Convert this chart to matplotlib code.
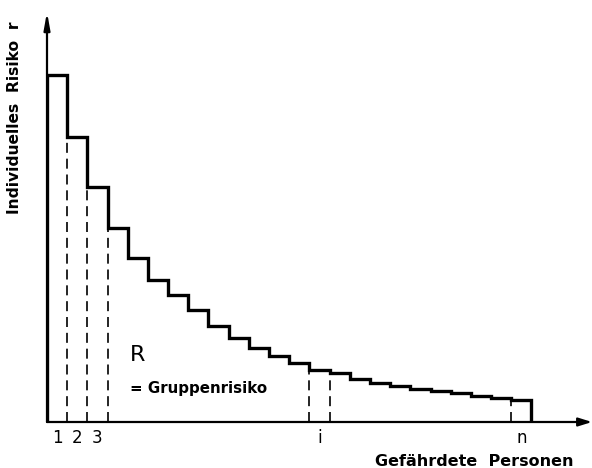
import numpy as np
import matplotlib
matplotlib.use("Agg")
import matplotlib.pyplot as plt

# individual risk per person (arbitrary units), persons 1..n
risk = [347, 285, 235, 194, 164, 142, 127, 112, 96, 84, 74, 66,
        59, 52, 49, 43, 39, 36, 33, 31, 29, 26, 24, 22]
tick_idx = [0, 1, 2, 13, 23]
tick_labels = ["1", "2", "3", "i", "n"]
dashed_at = [1, 2, 3, 13, 14, 23]

n = len(risk)
edges = np.arange(n + 1)

fig = plt.figure(figsize=(5.92, 4.68), dpi=100)
ax = fig.add_axes([47 / 592, 46 / 468, 545 / 592, 410 / 468])
ax.set_xlim(0, 27)
ax.set_ylim(0, 410)
for s in ax.spines.values():
    s.set_visible(False)

# staircase
ax.stairs(risk, edges, baseline=0, color="black", linewidth=2.4, fill=False)

# dashed separators
for x in dashed_at:
    ax.plot([x, x], [0, risk[x]], color="black", lw=1.2, dashes=(6, 3.5))

# axes with arrows
ax.annotate("", xy=(27, 0), xytext=(0, 0), annotation_clip=False,
            arrowprops=dict(arrowstyle="-|>,head_length=0.8,head_width=0.25",
                            color="black", lw=1.6, shrinkA=0, shrinkB=0))
ax.annotate("", xy=(0, 410), xytext=(0, 0), annotation_clip=False,
            arrowprops=dict(arrowstyle="-|>,head_length=1.0,head_width=0.18",
                            color="black", lw=1.6, shrinkA=0, shrinkB=0))

ax.set_yticks([])
ax.set_xticks(np.array(tick_idx) + 0.5)
ax.set_xticklabels(tick_labels, fontsize=12)
ax.tick_params(axis="x", length=0, pad=5)

ax.text(-1.6, 304, "Individuelles  Risiko  r", rotation=90, ha="center",
        va="center", fontsize=11.2, fontweight="bold", clip_on=False)
ax.text(26.1, -40, "Gefährdete  Personen", ha="right", va="center",
        fontsize=11.5, fontweight="bold", clip_on=False)

ax.text(4.1, 67, "R", ha="left", va="center", fontsize=16)
ax.text(4.1, 34, "= Gruppenrisiko", ha="left", va="center", fontsize=10.8,
        fontweight="bold")

fig.savefig("out.png", dpi=100)
